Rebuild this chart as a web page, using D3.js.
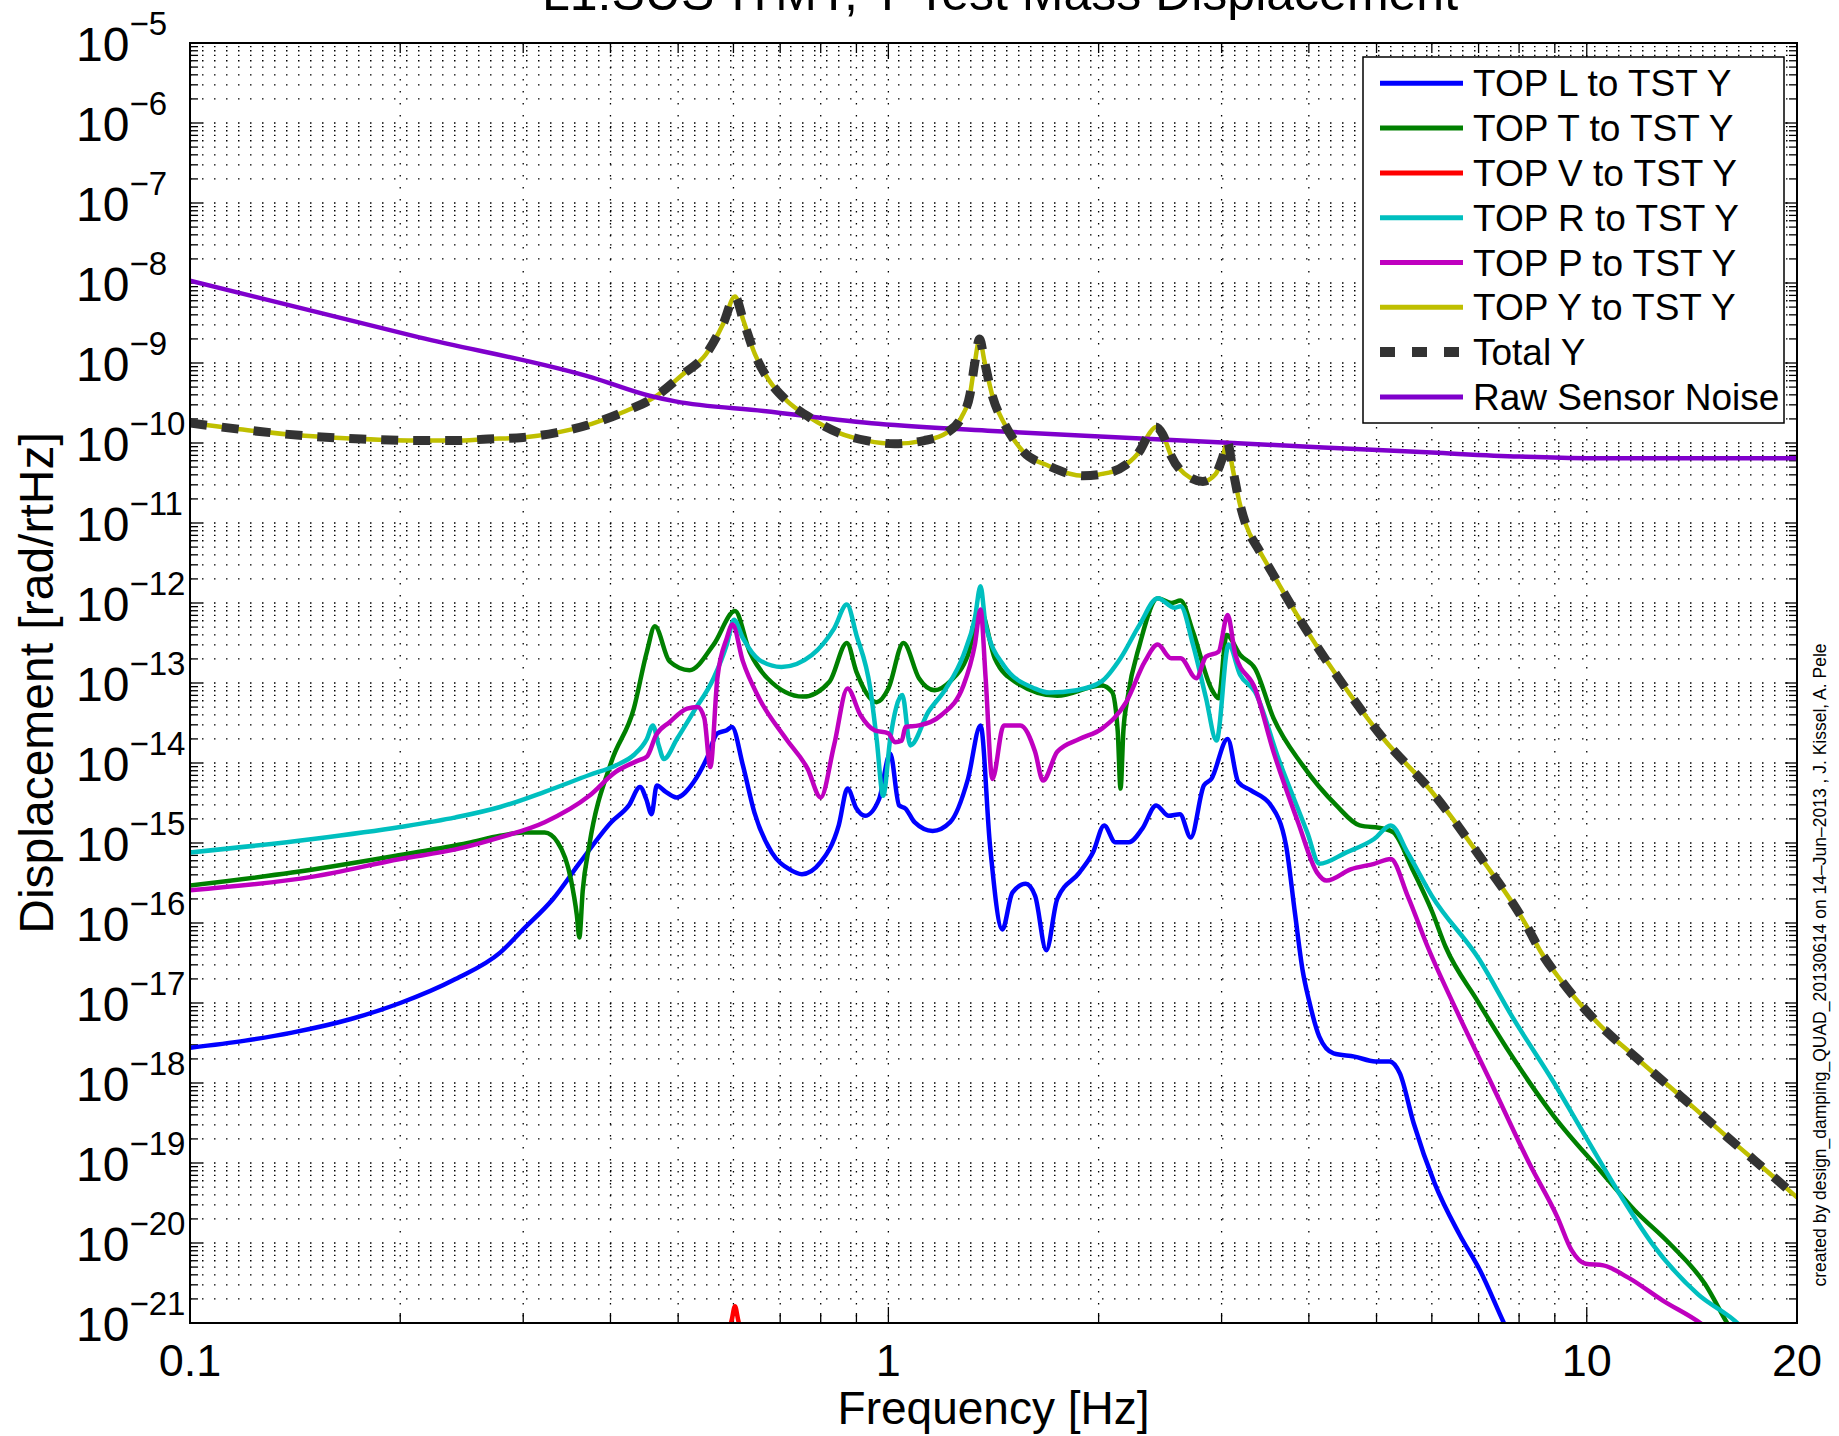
<!DOCTYPE html>
<html>
<head>
<meta charset="utf-8">
<script src="https://cdn.jsdelivr.net/npm/d3@7"></script>
<style>
  html, body { margin: 0; padding: 0; background: #fff; }
  svg { display: block; }
  text { font-family: "Liberation Sans", Arial, Helvetica, sans-serif; fill: #000; }
</style>
</head>
<body>
<svg id="chart" width="1839" height="1436"></svg>
<script>
// ---------------- DATA (frequency [Hz], log10 of displacement) ----------------
const titleText = "L1:SUS-ITMY, Y Test Mass Displacement";
const xLabel = "Frequency [Hz]";
const yLabel = "Displacement [rad/rtHz]";
const creditText = "created by design_damping_QUAD_20130614 on 14\u2013Jun\u20132013 , J. Kissel, A. Pele";
const xTickValues = [0.1, 1, 10, 20];
const xTickLabels = ["0.1", "1", "10", "20"];
const yTickExponents = [-5,-6,-7,-8,-9,-10,-11,-12,-13,-14,-15,-16,-17,-18,-19,-20,-21];
const seriesNames = ["TOP L to TST Y","TOP T to TST Y","TOP V to TST Y","TOP R to TST Y",
                     "TOP P to TST Y","TOP Y to TST Y","Total Y","Raw Sensor Noise"];

const topL = [[0.1,-17.56],[0.12,-17.47],[0.14,-17.37],[0.17,-17.2],[0.2,-17.0],[0.24,-16.7],
  [0.278,-16.37],[0.30,-16.08],[0.331,-15.70],[0.362,-15.24],[0.401,-14.74],[0.425,-14.53],
  [0.441,-14.30],[0.450,-14.45],[0.458,-14.64],[0.466,-14.28],[0.480,-14.36],[0.497,-14.43],
  [0.526,-14.24],[0.549,-13.95],[0.569,-13.63],[0.587,-13.59],[0.597,-13.55],[0.619,-14.03],
  [0.643,-14.62],[0.681,-15.12],[0.722,-15.33],[0.752,-15.39],[0.800,-15.24],[0.849,-14.78],
  [0.874,-14.32],[0.900,-14.57],[0.926,-14.66],[0.970,-14.45],[1.006,-13.88],[1.036,-14.53],
  [1.058,-14.57],[1.090,-14.74],[1.157,-14.85],[1.226,-14.74],[1.300,-14.20],[1.355,-13.53],
  [1.398,-15.03],[1.456,-16.08],[1.505,-15.62],[1.573,-15.51],[1.622,-15.66],[1.683,-16.34],
  [1.745,-15.70],[1.877,-15.37],[1.963,-15.12],[2.037,-14.78],[2.113,-14.99],[2.21,-14.99],
  [2.31,-14.82],[2.418,-14.53],[2.52,-14.66],[2.615,-14.64],[2.71,-14.93],[2.83,-14.28],
  [2.90,-14.20],[3.06,-13.70],[3.17,-14.24],[3.30,-14.34],[3.53,-14.53],[3.71,-15.03],
  [3.82,-15.87],[3.92,-16.6],[4.0,-16.96],[4.14,-17.42],[4.34,-17.63],[4.65,-17.67],
  [4.98,-17.73],[5.22,-17.73],[5.40,-17.88],[5.65,-18.50],[6.06,-19.26],[6.57,-19.89],
  [7.04,-20.35],[7.60,-20.99],[8.2,-21.6]];

const topT = [[0.1,-15.53],[0.14,-15.37],[0.2,-15.15],[0.25,-15.0],[0.278,-14.91],[0.30,-14.87],
  [0.322,-14.87],[0.336,-14.99],[0.351,-15.45],[0.358,-15.9],[0.361,-16.18],[0.365,-15.6],
  [0.373,-15.03],[0.401,-13.99],[0.432,-13.32],[0.451,-12.61],[0.463,-12.29],[0.486,-12.73],
  [0.519,-12.84],[0.562,-12.52],[0.603,-12.10],[0.633,-12.61],[0.671,-12.94],[0.755,-13.17],
  [0.824,-12.98],[0.872,-12.50],[0.900,-12.86],[0.962,-13.24],[1.0,-13.07],[1.051,-12.50],
  [1.106,-12.94],[1.165,-13.09],[1.226,-12.98],[1.300,-12.65],[1.355,-12.10],[1.420,-12.69],
  [1.529,-13.0],[1.745,-13.16],[2.02,-13.03],[2.09,-13.11],[2.13,-13.6],[2.15,-14.32],
  [2.17,-13.6],[2.20,-13.19],[2.29,-12.52],[2.43,-11.94],[2.54,-12.0],[2.62,-11.97],
  [2.73,-12.36],[2.90,-13.07],[2.97,-13.19],[3.05,-12.40],[3.19,-12.65],[3.35,-12.82],
  [3.56,-13.44],[3.92,-14.03],[4.38,-14.53],[4.73,-14.78],[5.12,-14.82],[5.29,-14.87],
  [5.63,-15.33],[6.0,-15.85],[6.28,-16.3],[6.96,-16.96],[7.82,-17.67],[8.98,-18.42],
  [10.44,-19.09],[11.71,-19.59],[13.15,-20.01],[14.76,-20.51],[15.91,-21.01],[17.0,-21.4]];

const topV = [[0.585,-21.3],[0.597,-20.95],[0.603,-20.79],[0.609,-20.95],[0.621,-21.3]];

const topR = [[0.1,-15.12],[0.15,-14.95],[0.2,-14.8],[0.24,-14.68],[0.278,-14.55],[0.322,-14.36],
  [0.373,-14.15],[0.407,-14.03],[0.432,-13.90],[0.451,-13.70],[0.460,-13.53],[0.469,-13.78],
  [0.477,-13.95],[0.498,-13.70],[0.526,-13.36],[0.562,-12.94],[0.587,-12.52],[0.601,-12.21],
  [0.619,-12.44],[0.653,-12.71],[0.703,-12.80],[0.777,-12.65],[0.836,-12.32],[0.872,-12.02],
  [0.900,-12.40],[0.942,-13.07],[0.962,-13.70],[0.983,-14.41],[1.006,-13.70],[1.047,-13.15],
  [1.075,-13.78],[1.141,-13.36],[1.209,-13.07],[1.281,-12.65],[1.330,-12.19],[1.355,-11.79],
  [1.378,-12.27],[1.463,-12.78],[1.622,-13.07],[1.70,-13.12],[1.86,-13.09],[2.02,-12.98],
  [2.15,-12.69],[2.29,-12.27],[2.43,-11.94],[2.57,-12.06],[2.62,-12.04],[2.73,-12.52],
  [2.85,-13.19],[2.95,-13.72],[3.07,-12.52],[3.19,-12.90],[3.35,-13.11],[3.62,-13.95],
  [3.98,-14.87],[4.14,-15.26],[4.52,-15.12],[4.96,-14.95],[5.24,-14.78],[5.54,-15.12],
  [6.0,-15.66],[7.02,-16.46],[7.82,-17.17],[8.98,-18.0],[9.96,-18.67],[11.06,-19.34],
  [12.41,-20.01],[14.42,-20.64],[16.47,-21.01],[18.0,-21.4]];

const topP = [[0.1,-15.59],[0.15,-15.42],[0.2,-15.2],[0.24,-15.08],[0.278,-14.93],[0.322,-14.74],
  [0.373,-14.41],[0.407,-14.11],[0.438,-13.97],[0.451,-13.92],[0.465,-13.65],[0.486,-13.49],
  [0.515,-13.32],[0.533,-13.30],[0.545,-13.44],[0.556,-14.05],[0.569,-12.94],[0.587,-12.44],
  [0.598,-12.27],[0.619,-12.73],[0.653,-13.19],[0.714,-13.70],[0.766,-14.07],[0.800,-14.43],
  [0.836,-13.78],[0.874,-13.07],[0.912,-13.40],[0.955,-13.59],[1.0,-13.63],[1.022,-13.74],
  [1.045,-13.72],[1.058,-13.55],[1.106,-13.53],[1.191,-13.40],[1.281,-13.03],[1.330,-12.52],
  [1.355,-12.08],[1.378,-12.94],[1.409,-14.20],[1.463,-13.53],[1.545,-13.53],[1.622,-13.86],
  [1.665,-14.22],[1.745,-13.86],[1.877,-13.70],[2.022,-13.57],[2.19,-13.24],[2.33,-12.73],
  [2.43,-12.52],[2.54,-12.69],[2.62,-12.69],[2.76,-12.94],[2.85,-12.67],[2.97,-12.61],
  [3.06,-12.15],[3.14,-12.65],[3.35,-13.07],[3.56,-13.86],[3.86,-14.74],[4.11,-15.37],
  [4.24,-15.47],[4.59,-15.33],[4.96,-15.26],[5.24,-15.20],[5.54,-15.66],[5.92,-16.3],
  [6.57,-17.17],[7.38,-18.09],[8.28,-19.01],[9.08,-19.68],[9.51,-20.09],[9.96,-20.26],
  [10.56,-20.28],[11.45,-20.43],[12.85,-20.72],[14.59,-21.01],[16.0,-21.3]];

const topY = [[0.1,-9.75],[0.121,-9.84],[0.146,-9.91],[0.176,-9.95],[0.213,-9.97],[0.239,-9.97],
  [0.267,-9.95],[0.300,-9.93],[0.335,-9.87],[0.376,-9.76],[0.421,-9.60],[0.462,-9.43],
  [0.508,-9.14],[0.548,-8.89],[0.580,-8.51],[0.603,-8.17],[0.620,-8.47],[0.644,-8.89],
  [0.675,-9.22],[0.715,-9.47],[0.771,-9.68],[0.847,-9.87],[0.931,-9.97],[1.02,-10.01],
  [1.125,-9.97],[1.213,-9.87],[1.272,-9.68],[1.309,-9.39],[1.329,-9.01],[1.351,-8.70],
  [1.372,-8.97],[1.411,-9.43],[1.466,-9.76],[1.557,-10.10],[1.70,-10.29],[1.90,-10.41],
  [2.07,-10.37],[2.19,-10.27],[2.29,-10.10],[2.36,-9.89],[2.415,-9.80],[2.47,-9.89],
  [2.54,-10.16],[2.70,-10.43],[2.82,-10.48],[2.94,-10.39],[3.01,-10.18],[3.058,-9.99],
  [3.11,-10.31],[3.18,-10.73],[3.25,-11.02],[3.40,-11.35],[3.56,-11.65],[3.86,-12.17],
  [4.38,-12.90],[5.12,-13.70],[6.0,-14.36],[7.02,-15.16],[8.22,-16.05],[8.58,-16.35],
  [9.19,-16.72],[9.85,-17.04],[10.68,-17.36],[11.58,-17.63],[12.56,-17.90],[13.61,-18.16],
  [14.76,-18.43],[16.01,-18.70],[17.35,-18.96],[18.6,-19.19],[20,-19.43]];

const totalY = topY; // the total overlays the TOP Y curve in the reference

const rawNoise = [[0.1,-7.97],[0.213,-8.68],[0.376,-9.18],[0.455,-9.41],[0.4955,-9.48],
  [0.6625,-9.60],[0.967,-9.76],[1.41,-9.85],[1.91,-9.91],[3.87,-10.04],[6.0,-10.12],
  [8.0,-10.17],[10,-10.19],[20,-10.19]];

// ---------------- LAYOUT ----------------
const L = 190, R = 1797, T = 43, B = 1323;
const svg = d3.select("#chart");
const x = d3.scaleLog().domain([0.1, 20]).range([L, R]);
const y = d3.scaleLog().domain([1e-21, 1e-5]).range([B, T]);

// grid (dotted, major + minor)
const grid = svg.append("g").attr("stroke", "#000").attr("stroke-width", 1.3)
  .attr("stroke-dasharray", "1.5,10.5").attr("fill", "none");
const xGridVals = [];
[0.1, 1, 10].forEach(d => { for (let k = 1; k <= 9; k++) { const v = d * k; if (v > 0.1 && v < 20) xGridVals.push(v); } });
const yGridVals = [];
for (let e = -21; e < -5; e++) { for (let k = 1; k <= 9; k++) { const v = k * Math.pow(10, e); if (v > 1e-21 * 1.0001) yGridVals.push(v); } }
grid.selectAll("line.gx").data(xGridVals).join("line").attr("class", "gx")
  .attr("x1", d => x(d)).attr("x2", d => x(d)).attr("y1", T).attr("y2", B);
grid.selectAll("line.gy").data(yGridVals).join("line").attr("class", "gy")
  .attr("x1", L).attr("x2", R).attr("y1", d => y(d)).attr("y2", d => y(d));

// ticks (inside, all four sides)
const ticks = svg.append("g").attr("stroke", "#000").attr("stroke-width", 1.3);
const isMajor = d => Math.abs(Math.log10(d) - Math.round(Math.log10(d))) < 1e-6;
xGridVals.forEach(d => {
  const len = isMajor(d) ? 16 : 10;
  ticks.append("line").attr("x1", x(d)).attr("x2", x(d)).attr("y1", B).attr("y2", B - len);
  ticks.append("line").attr("x1", x(d)).attr("x2", x(d)).attr("y1", T).attr("y2", T + len);
});
yGridVals.forEach(d => {
  const len = isMajor(d) ? 12 : 8;
  ticks.append("line").attr("x1", L).attr("x2", L + len).attr("y1", y(d)).attr("y2", y(d));
  ticks.append("line").attr("x1", R).attr("x2", R - len).attr("y1", y(d)).attr("y2", y(d));
});

// clip
svg.append("clipPath").attr("id", "plotclip").append("rect")
  .attr("x", L).attr("y", T).attr("width", R - L).attr("height", B - T);

const line = d3.line().x(d => x(d[0])).y(d => y(Math.pow(10, d[1]))).curve(d3.curveMonotoneX);
const curves = svg.append("g").attr("clip-path", "url(#plotclip)").attr("fill", "none")
  .attr("stroke-linejoin", "round").attr("stroke-linecap", "round");

const colors = ["#0000FF", "#008000", "#FF0000", "#00BFBF", "#BF00BF", "#BFBF00", "#333333", "#7F00CC"];
const seriesData = [topL, topT, topV, topR, topP, topY, totalY, rawNoise];
const drawOrder = [0, 1, 2, 3, 4, 5, 7, 6];
drawOrder.forEach(i => {
  const p = curves.append("path").attr("d", line(seriesData[i])).attr("stroke", colors[i]);
  if (i === 6) {
    p.attr("stroke-width", 9).attr("stroke-dasharray", "17,15").attr("stroke-linecap", "butt");
  } else {
    p.attr("stroke-width", 4.5);
  }
});

// axes box
svg.append("rect").attr("x", L).attr("y", T).attr("width", R - L).attr("height", B - T)
  .attr("fill", "none").attr("stroke", "#000").attr("stroke-width", 2);

// x tick labels
svg.append("g").selectAll("text").data(xTickValues).join("text")
  .attr("x", d => x(d)).attr("y", 1376).attr("text-anchor", "middle")
  .attr("font-size", 45).text((d, i) => xTickLabels[i]);

// y tick labels (10^n)
const yl = svg.append("g");
yTickExponents.forEach(e => {
  const t = yl.append("text").attr("x", 76).attr("y", y(Math.pow(10, e)) + 18).attr("font-size", 48);
  t.append("tspan").text("10");
  t.append("tspan").attr("dy", -26).attr("font-size", 33).text("\u2212" + Math.abs(e));
});

// axis labels
svg.append("text").attr("x", (L + R) / 2).attr("y", 1424).attr("text-anchor", "middle")
  .attr("font-size", 46).text(xLabel);
svg.append("text").attr("transform", `translate(53,${(T + B) / 2}) rotate(-90)`)
  .attr("text-anchor", "middle").attr("font-size", 48).text(yLabel);

// title (cut at top edge as in the reference)
svg.append("text").attr("x", 1000).attr("y", 10).attr("text-anchor", "middle")
  .attr("font-size", 50).text(titleText);

// credit text on the right
svg.append("text").attr("transform", "translate(1826,965) rotate(-90)")
  .attr("text-anchor", "middle").attr("font-size", 17.5).text(creditText);

// legend
const lg = svg.append("g");
lg.append("rect").attr("x", 1363).attr("y", 57).attr("width", 421).attr("height", 366)
  .attr("fill", "#fff").attr("stroke", "#000").attr("stroke-width", 1.5);
seriesNames.forEach((name, i) => {
  const cy = 83.3 + i * 44.8;
  const ln = lg.append("line").attr("x1", 1380).attr("x2", 1463).attr("y1", cy).attr("y2", cy)
    .attr("stroke", colors[i]);
  if (i === 6) ln.attr("stroke-width", 10).attr("stroke-dasharray", "15,17");
  else ln.attr("stroke-width", 5);
  lg.append("text").attr("x", 1473).attr("y", cy + 13).attr("font-size", 37).text(name);
});
</script>
</body>
</html>
